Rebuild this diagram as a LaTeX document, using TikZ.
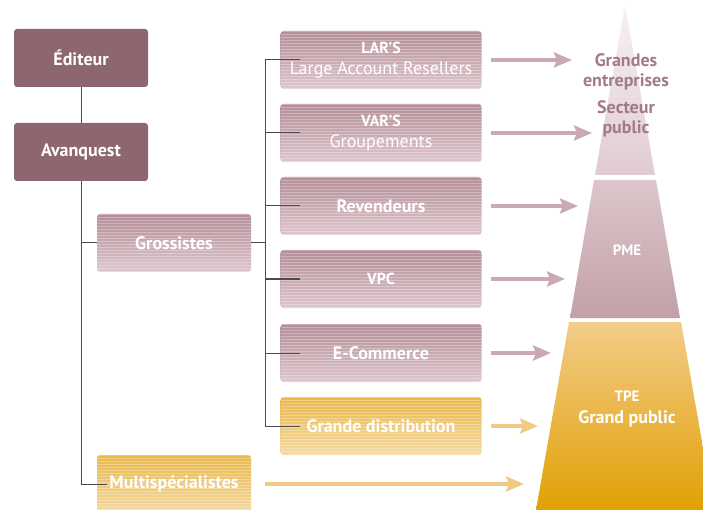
\documentclass[tikz,border=0pt]{standalone}
\usepackage{fontspec}
\setmainfont{PT Sans}
\usetikzlibrary{calc,shapes,arrows.meta}

\definecolor{mauvedark}{HTML}{8E6670}
\definecolor{mauvetop}{HTML}{B48D97}
\definecolor{mauvebot}{HTML}{DDC7CC}
\definecolor{goldtop}{HTML}{E9B84A}
\definecolor{goldbot}{HTML}{F4D9A2}
\definecolor{arrowmauve}{HTML}{C9AAB1}
\definecolor{arrowgold}{HTML}{F0C985}
\definecolor{textmauve}{HTML}{A27B86}
\definecolor{pyrtop}{HTML}{F7F2F3}
\definecolor{pyrmid}{HTML}{E0CBD0}
\definecolor{pmetop}{HTML}{DCC6CB}
\definecolor{pmebot}{HTML}{C3A0A8}
\definecolor{tpetop}{HTML}{F2CC88}
\definecolor{tpebot}{HTML}{E2A004}

\begin{document}
\begin{tikzpicture}[x=1pt,y=-1pt,
    box/.style={rounded corners=3pt,minimum height=58pt,inner sep=0pt,text=white,
      align=center,font=\bfseries\fontsize{18}{21}\selectfont},
    darkbox/.style={box,fill=mauvedark,minimum width=134pt},
    stripes/.style={path picture={\foreach \k in {0,3,...,60}
        \draw[white,opacity=.3,line width=.7pt]
          ([yshift=-\k pt]path picture bounding box.north west) --
          ([yshift=-\k pt]path picture bounding box.north east);}},
    mauvebox/.style={box,stripes,top color=mauvetop,bottom color=mauvebot,minimum width=201pt},
    goldbox/.style={box,stripes,top color=goldtop,bottom color=goldbot,minimum width=201pt},
    conn/.style={draw=black!70,line width=1pt},
    tipa/.style={line width=4pt,-{Stealth[length=18pt,width=15pt,inset=3pt]}},
  ]
  \useasboundingbox (0,0) rectangle (703,510);
  \clip (0,0) rectangle (703,510);

  % pyramid
  \shade[top color=pyrtop,bottom color=pyrmid] (625,5) -- (655,175) -- (595,175) -- cycle;
  \shade[top color=pmetop,bottom color=pmebot] (594,180) -- (656,180) -- (680,318) -- (570,318) -- cycle;
  \shade[top color=tpetop,bottom color=tpebot] (569,322) -- (681,322) -- (714,510) -- (536,510) -- cycle;
  \node[textmauve,align=center,font=\bfseries\fontsize{18}{20}\selectfont] (grandes) at (626,72) {Grandes\\entreprises};
  \node[textmauve,align=center,font=\bfseries\fontsize{18}{20}\selectfont] (secteur) at (626,119) {Secteur\\public};
  \node[white,font=\bfseries\fontsize{15}{17}\selectfont] (pme) at (627,250) {PME};
  \node[white,align=center,font=\bfseries\fontsize{18}{22}\selectfont] (tpe) at (627,409)
    {{\fontsize{15}{17}\selectfont TPE}\\Grand public};

  % boxes
  \node[darkbox] (editeur) at (81,58) {Éditeur};
  \node[darkbox] (avanquest) at (81,152) {Avanquest};
  \node[mauvebox,minimum width=154pt] (grossistes) at (174,243) {Grossistes};
  \node[goldbox,minimum width=154pt] (multi) at (174,484) {Multispécialistes};

  \node[mauvebox] (lar) at (381,60) {{\fontsize{16}{18}\selectfont LAR’S}\\\mdseries Large Account Resellers};
  \node[mauvebox] (var) at (381,133) {{\fontsize{16}{18}\selectfont VAR’S}\\\mdseries Groupements};
  \node[mauvebox] (rev) at (381,206) {Revendeurs};
  \node[mauvebox] (vpc) at (381,279) {{\fontsize{16}{18}\selectfont VPC}};
  \node[mauvebox] (ecom) at (381,353) {E-Commerce};
  \node[goldbox] (gd) at (381,426) {Grande distribution};

  % tree lines
  \draw[conn] (editeur) -- (avanquest);
  \draw[conn] (avanquest.south) |- ([xshift=10pt]multi.west);
  \draw[conn] (avanquest.south |- grossistes.west) -- (grossistes.west);
  \draw[conn] (grossistes.east) -- ++(14,0) coordinate (split);
  \draw[conn] (split |- lar.west) -- (split |- gd.west);
  \foreach \n in {lar,var,rev,vpc,ecom,gd}
    \draw[conn] (split |- \n.west) -- ([xshift=20pt]\n.west);

  % arrows to the pyramid
  \foreach \n/\tx in {lar/572,var/592,rev/578,vpc/565,ecom/551}
    \draw[tipa,arrowmauve] ([xshift=9pt]\n.east) -- (\tx,0 |- \n.east);
  \draw[tipa,arrowgold] ([xshift=9pt]gd.east) -- (538,0 |- gd.east);
  \draw[tipa,arrowgold] ([xshift=14pt]multi.east) -- (524,0 |- multi.east);
\end{tikzpicture}
\end{document}
